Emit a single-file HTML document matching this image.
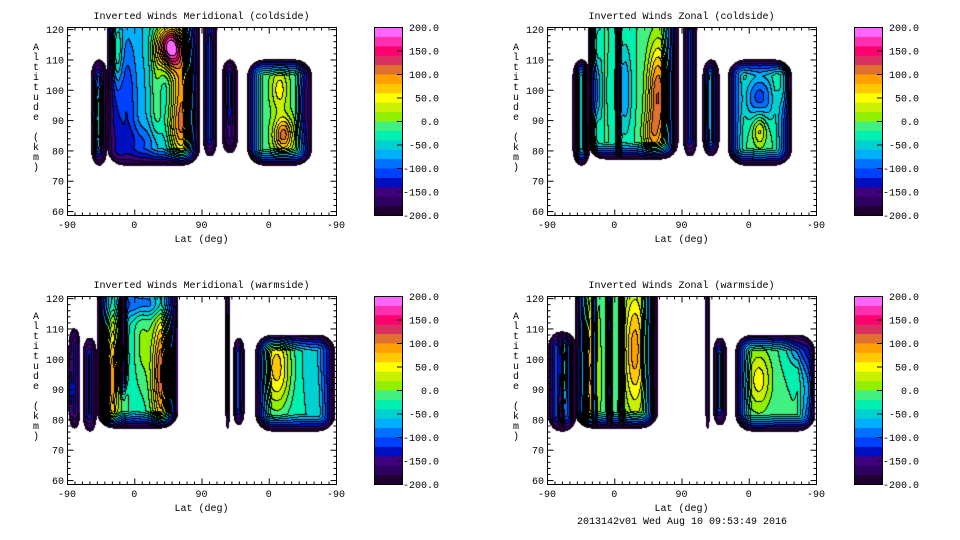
<!DOCTYPE html>
<html><head><meta charset="utf-8">
<style>
html,body{margin:0;padding:0;background:#fff;width:960px;height:540px;overflow:hidden}
#wrap{position:relative;width:960px;height:540px}
canvas{position:absolute}
svg{position:absolute;left:0;top:0}
text{font-family:"Liberation Mono","DejaVu Sans Mono",monospace;font-size:10px;fill:#000}
</style></head><body>
<div id="wrap">
<canvas id="c0" width="269" height="188" style="left:67px;top:27px"></canvas>
<canvas id="c1" width="269" height="188" style="left:547px;top:27px"></canvas>
<canvas id="c2" width="269" height="188" style="left:67px;top:296px"></canvas>
<canvas id="c3" width="269" height="188" style="left:547px;top:296px"></canvas>
<svg id="ax" width="960" height="540"></svg>
</div>
<script>
// ---- data ----
const panelTitles=["Inverted Winds Meridional (coldside)","Inverted Winds Zonal (coldside)","Inverted Winds Meridional (warmside)","Inverted Winds Zonal (warmside)"];
const xTickLabels=["-90","0","90","0","-90"];
const yTickLabels=[60,70,80,90,100,110,120];
const cbarTickLabels=["200.0","150.0","100.0","50.0","0.0","-50.0","-100.0","-150.0","-200.0"];
const levelColors=["#200030","#300060","#400080","#0010c0","#0040ff","#0070ff","#00b0ff","#00d0d0","#00f0b0","#40f080","#90f000","#c8f000","#ffff00","#ffc800","#ffa000","#e07030","#d83060","#ff0070","#ff30b0","#ff66ff"];
// blocks: [lat0,lat1,alt0,alt1,base]  (lat in track units 0..360)
const tlBlocks=[[32,54,75,110,-130],[54,178,75,121,-60],[182,201,78,121,-130],[207,229,79,110,-170],[241,328,75,110,-10]];
const tlBlobs=[[66,113,5,8,150],[138,114,12,5,240],[155,97,12,14,150],[150,85,14,6,60],[80,95,10,15,-60],[42,90,4,10,90],[191,100,4,15,20],[218,100,4,10,60],[285,100,8,5,60],[290,85,9,4,120],[320,95,6,8,-80],[120,100,6,15,50],[100,82,30,4,-40]];
const trBlocks=[[34,58,75,110,-50],[55,176,77,121,-20],[182,201,78,121,-120],[208,231,78,110,-100],[242,328,75,110,-20]];
const trBlobs=[[37,95,3,20,-150],[66,115,4,6,100],[66,86,4,5,100],[56,100,2,30,-170],[96,100,2,30,-170],[173,100,2,30,-170],[105,100,6,10,-60],[149,98,10,12,140],[140,85,8,5,60],[219,95,3,15,40],[285,97,14,6,-90],[320,102,7,6,90],[285,87,7,4,80]];
const blBlocks=[[2,18,77,110,-120],[21,40,76,107,-120],[40,149,77,121,-40],[212,218,77,121,-140],[222,238,78,107,-130],[252,359,76,108,-40]];
const blBlobs=[[6,90,3,15,-60],[3,90,3,8,150],[58,93,7,16,170],[43,95,2,30,-140],[76,100,3,20,-130],[76,85,4,5,120],[129,95,11,15,170],[100,105,8,12,40],[100,118,30,3,-70],[229,95,4,15,30],[281,97,14,10,110],[340,100,15,8,-20]];
const brBlocks=[[1,40,76,109,-70],[37,149,77,121,-10],[212,218,77,121,-170],[222,241,78,107,-120],[252,359,76,108,-20]];
const brBlobs=[[20,95,3,25,-160],[22,97,3,10,150],[58,95,7,18,110],[37,100,2,30,-180],[64,100,2,30,-160],[84,100,2,30,-160],[100,100,2,30,-160],[145,100,2,30,-160],[118,103,10,14,100],[231,95,3,15,30],[284,93,12,7,70],[355,90,6,6,110],[340,105,12,5,-80]];
const panelBlocks=[tlBlocks,trBlocks,blBlocks,brBlocks];
const panelBlobs=[tlBlobs,trBlobs,blBlobs,brBlobs];

// ---- layout ----
const PX=[67,547,67,547], PY=[27,27,296,296], W=269, H=188;
const yMin=58.7, yMax=120.7;
function xs(u){return u/360*W;}
function ys(a){return (yMax-a)/(yMax-yMin)*H;}

function render(p){
  const cv=document.getElementById('c'+p), ctx=cv.getContext('2d');
  const img=ctx.createImageData(W,H); const lev=new Int16Array(W*H).fill(-1);
  const blocks=panelBlocks[p], blobs=panelBlobs[p], E=17;
  for(let py=0;py<H;py++)for(let px=0;px<W;px++){
    const u=(px+.5)/W*360, a=yMax-(py+.5)/H*(yMax-yMin);
    for(const b of blocks){
      const bx0=xs(b[0]),bx1=xs(b[1]),by0=b[3]>120?-1e3:ys(b[3]),by1=ys(b[2]);
      if(px+.5<bx0||px+.5>bx1||py+.5<by0||py+.5>by1)continue;
      const bw=bx1-bx0, Ex=Math.min(E,bw/2.2);
      const dx=Math.min(px+.5-bx0,bx1-px-.5)/Ex, dy=Math.min(py+.5-by0,by1-py-.5)/E;
      let d;
      if(dx<1&&dy<1){d=1-Math.hypot(1-dx,1-dy);}else d=Math.min(dx,dy);
      if(d<0)continue;
      let f=Math.min(1,d); f=Math.sqrt(f)*0.35+f*0.65;
      let v=b[4]; for(const g of blobs){v+=g[4]*Math.exp(-0.5*((u-g[0])/g[2])**2-0.5*((a-g[1])/g[3])**2);}
      v=Math.max(-200,Math.min(199.9,v));
      v=-200+(v+200)*f;
      lev[py*W+px]=Math.max(0,Math.min(19,Math.floor((v+200)/20)));
      break;
    }
  }
  const rgb=levelColors.map(c=>[parseInt(c.substr(1,2),16),parseInt(c.substr(3,2),16),parseInt(c.substr(5,2),16)]);
  for(let py=0;py<H;py++)for(let px=0;px<W;px++){
    const i=py*W+px,l=lev[i],o=i*4;
    if(l<0){img.data[o]=img.data[o+1]=img.data[o+2]=255;img.data[o+3]=255;continue;}
    let c=rgb[l];
    const r=px<W-1?lev[i+1]:-1, dn=py<H-1?lev[i+W]:-1;
    if((r>=0&&r!==l)||(dn>=0&&dn!==l))c=[0,0,0];
    img.data[o]=c[0];img.data[o+1]=c[1];img.data[o+2]=c[2];img.data[o+3]=255;
  }
  ctx.putImageData(img,0,0);
}
for(let p=0;p<4;p++)render(p);

// ---- axes ----
const svg=document.getElementById('ax'), NS='http://www.w3.org/2000/svg';
function mk(tag,at,parent){const e=document.createElementNS(NS,tag);for(const k in at)e.setAttribute(k,at[k]);(parent||svg).appendChild(e);return e;}
function txt(x,y,s,anchor,parent){const t=mk('text',{x:x,y:y,'text-anchor':anchor||'middle'},parent);t.textContent=s;return t;}
for(let p=0;p<4;p++){
  const x0=PX[p],y0=PY[p];
  const g=mk('g',{});
  
  
  mk('rect',{x:x0+.5,y:y0+.5,width:W,height:H,fill:'none',stroke:'#000','stroke-width':1},g);
  for(let k=0;k<=36;k++){const x=x0+.5+xs(k*10),L=(k%9===0)?6:3;
    mk('line',{x1:x,y1:y0+H+.5,x2:x,y2:y0+H+.5-L,stroke:'#000'},g);
    mk('line',{x1:x,y1:y0+.5,x2:x,y2:y0+.5+L,stroke:'#000'},g);}
  xTickLabels.forEach((s,k)=>{const t=txt(x0+xs(k*90),y0+H+13,s,'middle',g);
    });
  for(let a=60;a<=120;a+=2){const y=y0+.5+ys(a),L=(a%10===0)?6:3;
    mk('line',{x1:x0+.5,y1:y,x2:x0+.5+L,y2:y,stroke:'#000'},g);
    mk('line',{x1:x0+W+.5,y1:y,x2:x0+W+.5-L,y2:y,stroke:'#000'},g);}
  yTickLabels.forEach(a=>{const t=txt(x0-3,y0+ys(a)+4,String(a),'end',g);
    });
  const tt=txt(x0+W/2,y0-8,panelTitles[p],'middle',g);
  
  const xl=txt(x0+W/2,y0+H+27,'Lat (deg)','middle',g);
  
  const yl=mk('g',{},g);
  
  'Altitude (km)'.split('').forEach((ch,i)=>{if(ch!==' ')txt(x0-31,y0+23+i*10,ch,'middle',yl);});
  const cx=x0+307, cb=mk('g',{});
  
  const bh=H/20;
  levelColors.forEach((c,i)=>{mk('rect',{x:cx,y:y0+H-(i+1)*bh,width:28,height:bh+.5,fill:c},cb);});
  mk('rect',{x:cx+.5,y:y0+.5,width:28,height:H,fill:'none',stroke:'#000'},cb);
  cbarTickLabels.forEach((s,i)=>{const y=y0+i*H/8;
    if(i>0&&i<8)mk('line',{x1:cx+23,y1:y+.5,x2:cx+28,y2:y+.5,stroke:'#000'},cb);
    const t=txt(cx+65,y+4,s,'end',cb);
    });
}
const ft=txt(682,524,'2013142v01 Wed Aug 10 09:53:49 2016','middle');

</script>
</body></html>
